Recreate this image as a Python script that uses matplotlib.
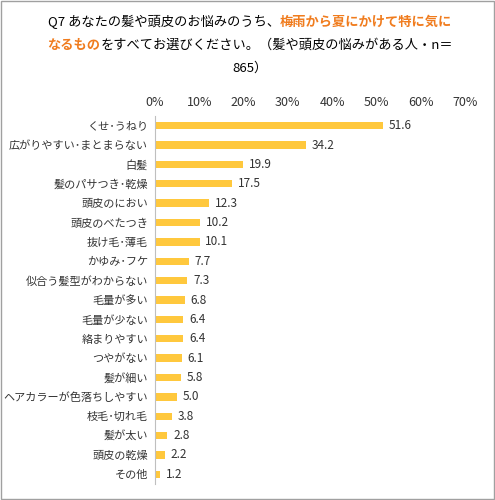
import matplotlib
matplotlib.use("Agg")
import matplotlib.pyplot as plt
from matplotlib.patches import Rectangle

plt.rcParams['font.family'] = ['Noto Sans CJK JP', 'DejaVu Sans']

labels = ["くせ・うねり", "広がりやすい・まとまらない", "白髪", "髪のパサつき・乾燥", "頭皮のにおい",
          "頭皮のべたつき", "抜け毛・薄毛", "かゆみ・フケ", "似合う髪型がわからない", "毛量が多い",
          "毛量が少ない", "絡まりやすい", "つやがない", "髪が細い", "ヘアカラーが色落ちしやすい",
          "枝毛・切れ毛", "髪が太い", "頭皮の乾燥", "その他"]
values = [51.6, 34.2, 19.9, 17.5, 12.3, 10.2, 10.1, 7.7, 7.3, 6.8, 6.4, 6.4, 6.1, 5.8, 5.0, 3.8, 2.8, 2.2, 1.2]
ticks = [0, 10, 20, 30, 40, 50, 60, 70]

fig = plt.figure(figsize=(4.95, 5), dpi=100)
fig.patches.append(Rectangle((0.002, 0.002), 0.996, 0.996, transform=fig.transFigure,
                             fill=False, edgecolor='#a0a0a0', linewidth=1))
ax = fig.add_axes([0.313, 0.032, 0.626, 0.736])
y = list(range(len(labels)))
ax.barh(y, values, height=0.38, color='#FFC83D')
for yi, v in zip(y, values):
    ax.text(v + 1.3, yi, f"{v:.1f}", va='center', ha='left', fontsize=8.5, color='#333333')
ax.set_ylim(len(labels) - 0.5, -0.5)
ax.set_xlim(0, 70)
ax.set_yticks(y)
ax.set_yticklabels([l.replace("・", "･") for l in labels], fontsize=8, color='#333333')
ax.xaxis.tick_top()
ax.set_xticks(ticks)
ax.set_xticklabels([f"{t}%" for t in ticks], fontsize=9, color='#333333')
ax.tick_params(length=0, pad=5)
for s in ax.spines.values():
    s.set_visible(False)
ax.spines['left'].set_visible(True)
ax.spines['left'].set_color('#bfbfbf')

# title with mixed colours, centred per line
fig.canvas.draw()
r = fig.canvas.get_renderer()
orange = '#F07C1E'
lines = [
    [("Q7 あなたの髪や頭皮のお悩みのうち、", 'black', 'normal'), ("梅雨から夏にかけて特に気に", orange, 'bold')],
    [("なるもの", orange, 'bold'), ("をすべてお選びください。（髪や頭皮の悩みがある人・n＝", 'black', 'normal')],
    [("865）", 'black', 'normal')],
]
fs = 9.5
ypos = [478, 455, 432]
for line, yp in zip(lines, ypos):
    pieces = []
    for txt, c, w in line:
        t = fig.text(0, yp / 500, txt, color=c, fontsize=fs, fontweight=w, va='center', ha='left')
        pieces.append(t)
    widths = [p.get_window_extent(r).width for p in pieces]
    x = 250 - sum(widths) / 2
    for p, wd in zip(pieces, widths):
        p.set_x(x / 495)
        x += wd

fig.savefig("out.png", dpi=100)
